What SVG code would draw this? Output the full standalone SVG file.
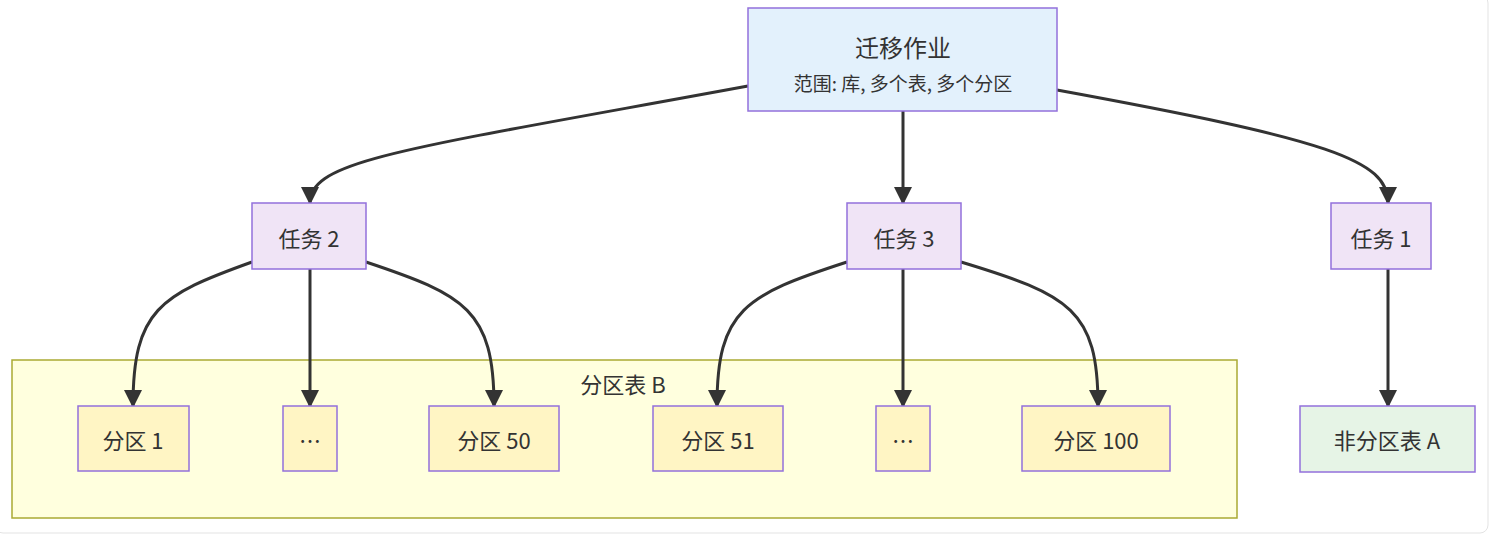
<svg xmlns="http://www.w3.org/2000/svg" width="1492" height="536" viewBox="0 0 1492 536">
<style>
text{font-family:"Noto Sans CJK SC","Liberation Sans",sans-serif;fill:#333;text-anchor:middle;dominant-baseline:central}
.n{stroke:#9370DB;stroke-width:1.5}
.t{fill:#f0e4f6}.p{fill:#fff5c4}
.e{fill:none;stroke:#333;stroke-width:3}
</style>
<defs><marker id="a" markerUnits="userSpaceOnUse" markerWidth="18" markerHeight="18" refX="16" refY="9" orient="auto"><path d="M0,0 L18,9 L0,18 z" fill="#333"/></marker></defs>
<rect width="1492" height="536" fill="#fff"/>
<rect x="-5" y="-5" width="1493" height="538" rx="8" fill="none" stroke="#e3e3e3"/>
<g id="clusterB"><rect x="12" y="360" width="1225" height="158" fill="#ffffde" stroke="#aaaa33" stroke-width="1.5"/><text x="623" y="383" font-size="22">分区表 B</text></g>
<g id="edges">
<path class="e" marker-end="url(#a)" d="M748,86 C400,150 310,160 310,203"/>
<path class="e" marker-end="url(#a)" d="M903,111 L903,203"/>
<path class="e" marker-end="url(#a)" d="M1057,90 C1330,140 1388,160 1388,203"/>
<path class="e" marker-end="url(#a)" d="M252,262 C160,295 133,310 133,406"/>
<path class="e" marker-end="url(#a)" d="M310,269 L310,406"/>
<path class="e" marker-end="url(#a)" d="M366,262 C465,295 494,310 494,406"/>
<path class="e" marker-end="url(#a)" d="M847,262 C745,295 717,310 717,406"/>
<path class="e" marker-end="url(#a)" d="M903,269 L903,406"/>
<path class="e" marker-end="url(#a)" d="M961,262 C1070,295 1098,310 1098,406"/>
<path class="e" marker-end="url(#a)" d="M1388,269 L1388,406"/>
</g>
<g id="job"><rect class="n" x="748" y="8" width="309" height="103" fill="#e3f1fc"/><text x="903" y="46" font-size="24">迁移作业</text><text x="903" y="82" font-size="19">范围: 库, 多个表, 多个分区</text></g>
<g id="t2"><rect class="n t" x="252" y="203" width="114" height="66"/><text x="309" y="237" font-size="22">任务 2</text></g>
<g id="t3"><rect class="n t" x="847" y="203" width="114" height="66"/><text x="904" y="237" font-size="22">任务 3</text></g>
<g id="t1"><rect class="n t" x="1331" y="203" width="100" height="66"/><text x="1381" y="237" font-size="22">任务 1</text></g>
<g id="p1"><rect class="n p" x="78" y="406" width="111" height="65"/><text x="133" y="439" font-size="22">分区 1</text></g>
<g id="pd1"><rect class="n p" x="283" y="406" width="54" height="65"/><text x="310" y="439" font-size="22">…</text></g>
<g id="p50"><rect class="n p" x="429" y="406" width="130" height="65"/><text x="494" y="439" font-size="22">分区 50</text></g>
<g id="p51"><rect class="n p" x="653" y="406" width="130" height="65"/><text x="718" y="439" font-size="22">分区 51</text></g>
<g id="pd2"><rect class="n p" x="876" y="406" width="54" height="65"/><text x="903" y="439" font-size="22">…</text></g>
<g id="p100"><rect class="n p" x="1022" y="406" width="148" height="65"/><text x="1096" y="439" font-size="22">分区 100</text></g>
<g id="tA"><rect class="n" x="1300" y="406" width="175" height="66" fill="#e6f4e6"/><text x="1387" y="439" font-size="22">非分区表 A</text></g>
</svg>
